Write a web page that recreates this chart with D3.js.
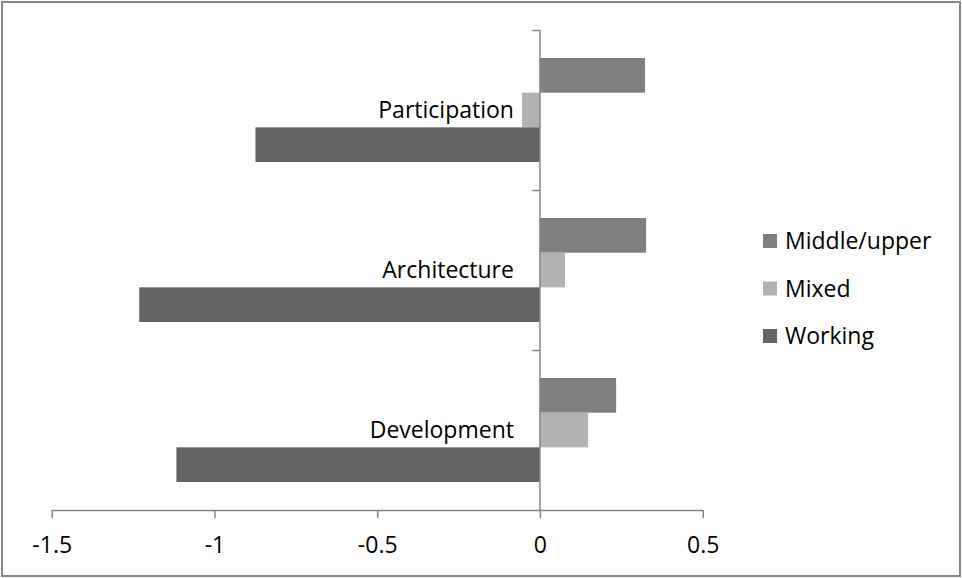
<!DOCTYPE html>
<html lang="en">
<head>
    <meta charset="UTF-8">
    <title>Grouped horizontal bars</title>
    <script src="https://d3js.org/d3.v7.min.js"></script>
    <style>
        body { margin: 0; background: white; }
        text { font-family: 'Open Sans', sans-serif; fill: #000; }
        .frame { fill: white; stroke: #868686; stroke-width: 2; }
        .axis path, .axis line { stroke: #868686; stroke-width: 1.5; }
    </style>
</head>
<body>
    <svg width="962" height="578"></svg>

    <script>
        // categories from top to bottom
        const categories = ['Participation', 'Architecture', 'Development'];
        const seriesNames = ['Middle/upper', 'Mixed', 'Working'];
        const middleUpper = [0.323, 0.326, 0.234];
        const mixed = [-0.055, 0.077, 0.148];
        const working = [-0.874, -1.231, -1.117];
        const xTicks = [-1.5, -1, -0.5, 0, 0.5];

        const colors = ['#808080', '#b2b2b2', '#636363'];
        const seriesValues = [middleUpper, mixed, working];

        const rows = categories.map((c, i) => ({
            category: c,
            values: seriesNames.map((s, j) => ({ series: s, value: seriesValues[j][i] }))
        }));

        const svg = d3.select('svg');
        const width = +svg.attr('width');
        const height = +svg.attr('height');

        svg.append('rect')
            .attr('class', 'frame')
            .attr('x', 2).attr('y', 2)
            .attr('width', width - 4).attr('height', height - 4);

        const plot = { left: 51.7, right: 702.7, top: 30, bottom: 510 };

        const x = d3.scaleLinear()
            .domain([-1.5, 0.5])
            .range([plot.left, plot.right]);

        const y0 = d3.scaleBand()
            .domain(categories)
            .range([plot.top, plot.bottom])
            .paddingInner(0.35)
            .paddingOuter(0.175);

        const y1 = d3.scaleBand()
            .domain(seriesNames)
            .range([0, y0.bandwidth()]);

        const color = d3.scaleOrdinal().domain(seriesNames).range(colors);

        // bars
        const groups = svg.selectAll('.group')
            .data(rows)
            .enter().append('g')
            .attr('class', 'group')
            .attr('transform', d => `translate(0,${y0(d.category)})`);

        groups.selectAll('rect')
            .data(d => d.values)
            .enter().append('rect')
            .attr('x', d => x(Math.min(0, d.value)))
            .attr('y', d => y1(d.series))
            .attr('width', d => Math.abs(x(d.value) - x(0)))
            .attr('height', y1.bandwidth())
            .attr('fill', d => color(d.series));

        // x axis
        const xAxis = svg.append('g')
            .attr('class', 'axis')
            .attr('transform', `translate(0,${plot.bottom})`)
            .call(d3.axisBottom(x).tickValues(xTicks).tickSize(8).tickSizeOuter(0).tickFormat(d => d));
        xAxis.selectAll('text')
            .attr('dy', 0)
            .attr('y', 43)
            .style('font-size', '23px');

        // category axis sitting on zero
        const yOuter = d3.scaleLinear().domain([0, 3]).range([plot.top, plot.bottom]);
        const yAxis = svg.append('g')
            .attr('class', 'axis')
            .attr('transform', `translate(${x(0)},0)`)
            .call(d3.axisLeft(yOuter).ticks(3).tickSize(8).tickSizeOuter(8).tickFormat(''));
        yAxis.select('.domain').attr('d', `M0,${plot.top}V${plot.bottom}`);
        yAxis.selectAll('.tick').filter(d => d === 3).remove();

        svg.selectAll('.cat-label')
            .data(categories)
            .enter().append('text')
            .attr('class', 'cat-label')
            .attr('x', x(0) - 26)
            .attr('y', d => y0(d) + y0.bandwidth() / 2 + 8)
            .attr('text-anchor', 'end')
            .style('font-size', '23px')
            .text(d => d);

        // legend
        const legend = svg.selectAll('.legend')
            .data(seriesNames)
            .enter().append('g')
            .attr('class', 'legend')
            .attr('transform', (d, i) => `translate(763,${241 + i * 47.5})`);

        legend.append('rect')
            .attr('x', 0).attr('y', -7)
            .attr('width', 14).attr('height', 14)
            .attr('fill', d => color(d));

        legend.append('text')
            .attr('x', 22)
            .attr('y', 8)
            .style('font-size', '23px')
            .text(d => d);
    </script>
</body>
</html>
